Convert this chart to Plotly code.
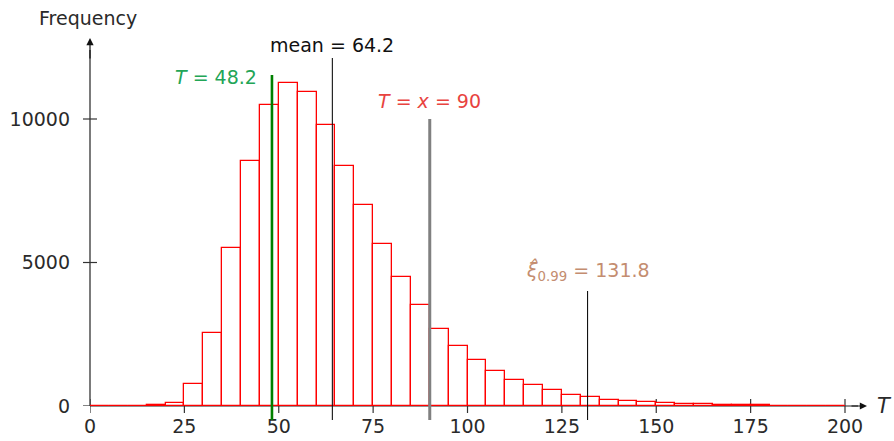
import plotly.graph_objects as go

# ---- data ----
bin_width = 5
bin_starts = list(range(0, 200, 5))
frequencies = [0, 0, 5, 30, 90, 750, 2540, 5500, 8540, 10500,
               11240, 10950, 9790, 8370, 7000, 5640, 4490, 3520, 2690, 2100,
               1600, 1210, 905, 720, 545, 395, 315, 225, 180, 135,
               100, 75, 55, 40, 30, 20, 15, 10, 8, 5]
x_ticks = [0, 25, 50, 75, 100, 125, 150, 175, 200]
y_ticks = [0, 5000, 10000]
observed_T = 48.2
mean_T = 64.2
x_value = 90
quantile_99 = 131.8

FONT = "DejaVu Sans"
FS = 19
TXT = "#2a2a2a"

# geometry (style); page body margin removed via post_script
W, H = 894, 441
ML = 90
plot_h = 406
MB = H - plot_h
plot_w = W - ML
px_per_x = 3.775
px_per_y = 0.0287
x_max = plot_w / px_per_x
y_max = plot_h / px_per_y


def py(ref_px):
    """pixel row -> paper fraction"""
    return (plot_h - ref_px) / plot_h


def ydata(ref_px):
    return (plot_h - ref_px) / px_per_y


def xdata(ref_px):
    return (ref_px - ML) / px_per_x


centers = [s + bin_width / 2 for s in bin_starts]

fig = go.Figure()
fig.add_trace(go.Bar(
    x=centers, y=frequencies, width=bin_width,
    marker=dict(color="white", line=dict(color="#ff0000", width=1.3)),
    showlegend=False, hoverinfo="skip", cliponaxis=False,
))
# histogram baseline
fig.add_trace(go.Scatter(
    x=[bin_starts[0], bin_starts[-1] + bin_width], y=[0, 0], mode="lines",
    line=dict(color="#ff0000", width=1.5), showlegend=False, hoverinfo="skip",
    cliponaxis=False,
))

shapes = []
# y axis line
shapes.append(dict(type="line", xref="paper", yref="paper", x0=0, x1=0,
                   y0=0, y1=py(50), line=dict(color="#222", width=1.2), layer="below"))
# x axis line (below bars)
shapes.append(dict(type="line", xref="x", yref="paper", x0=0, x1=xdata(858),
                   y0=0, y1=0, line=dict(color="#222", width=1.2), layer="below"))
# cross ticks x
for t in x_ticks:
    shapes.append(dict(type="line", xref="x", yref="paper", x0=t, x1=t,
                       y0=py(413), y1=py(399),
                       line=dict(color="#333", width=1.2), layer="below"))
# cross ticks y
for t in y_ticks:
    shapes.append(dict(type="line", xref="paper", yref="y", x0=-7 / plot_w, x1=7 / plot_w,
                       y0=t, y1=t, line=dict(color="#333", width=1.2), layer="below"))

# vertical marker lines
shapes.append(dict(type="line", xref="x", yref="paper", x0=observed_T, x1=observed_T,
                   y0=py(420), y1=py(75), line=dict(color="#008000", width=2.6)))
shapes.append(dict(type="line", xref="x", yref="paper", x0=mean_T, x1=mean_T,
                   y0=py(420), y1=py(58), line=dict(color="#111", width=1.1)))
shapes.append(dict(type="line", xref="x", yref="paper", x0=x_value, x1=x_value,
                   y0=py(420), y1=py(119), line=dict(color="#808080", width=3)))
shapes.append(dict(type="line", xref="x", yref="paper", x0=quantile_99, x1=quantile_99,
                   y0=py(420), y1=py(291), line=dict(color="#111", width=1.1)))

annotations = []
# axis arrows
annotations.append(dict(x=xdata(867), y=0, ax=xdata(850), ay=0, xref="x", yref="y", axref="x", ayref="y",
                        text="", showarrow=True, arrowhead=2, arrowsize=1.2, arrowwidth=1.2,
                        arrowcolor="#111", standoff=0, startstandoff=0))
annotations.append(dict(x=0, y=ydata(38), ax=0, ay=ydata(60), xref="x", yref="y", axref="x", ayref="y",
                        text="", showarrow=True, arrowhead=2, arrowsize=1.2, arrowwidth=1.2,
                        arrowcolor="#111", standoff=0, startstandoff=0))
# axis titles
annotations.append(dict(x=0, xshift=-2, y=ydata(18), xref="paper", yref="y", text="Frequency",
                        showarrow=False, xanchor="center", yanchor="middle",
                        font=dict(family=FONT, size=FS, color=TXT)))
annotations.append(dict(x=xdata(884), y=0, xref="x", yref="y", text="<i>T</i>",
                        showarrow=False, xanchor="center", yanchor="middle",
                        font=dict(family=FONT, size=FS + 2, color=TXT)))
# labels
annotations.append(dict(x=observed_T, xshift=-56, y=ydata(77), xref="x", yref="y",
                        text="<i>T</i> = " + str(observed_T), showarrow=False,
                        xanchor="center", yanchor="middle",
                        font=dict(family=FONT, size=FS, color="#22a556")))
annotations.append(dict(x=mean_T, y=ydata(45), xref="x", yref="y",
                        text="mean = " + str(mean_T), showarrow=False,
                        xanchor="center", yanchor="middle",
                        font=dict(family=FONT, size=FS, color="#111")))
annotations.append(dict(x=x_value, y=ydata(101), xref="x", yref="y",
                        text="<i>T</i> = <i>x</i> = " + str(x_value), showarrow=False,
                        xanchor="center", yanchor="middle",
                        font=dict(family=FONT, size=FS, color="#e8433f")))
annotations.append(dict(x=quantile_99, y=ydata(271), xref="x", yref="y",
                        text="<i>ξ\u0302</i><sub>0.99</sub> = " + str(quantile_99), showarrow=False,
                        xanchor="center", yanchor="middle",
                        font=dict(family=FONT, size=FS, color="#c48d70")))

fig.update_layout(
    width=W, height=H,
    margin=dict(l=ML, r=0, t=0, b=MB, pad=0),
    plot_bgcolor="white", paper_bgcolor="white",
    bargap=0,
    shapes=shapes, annotations=annotations,
    xaxis=dict(range=[0, x_max], tickvals=x_ticks, ticktext=[str(t) for t in x_ticks],
               showgrid=False, zeroline=False, showline=False, ticks="",
               ticklabelstandoff=7, fixedrange=True,
               tickfont=dict(family=FONT, size=FS, color=TXT)),
    yaxis=dict(range=[0, y_max], tickvals=y_ticks, ticktext=[str(t) for t in y_ticks],
               showgrid=False, zeroline=False, showline=False, ticks="",
               ticklabelstandoff=19, fixedrange=True,
               tickfont=dict(family=FONT, size=FS, color=TXT)),
)

fig.write_html(
    "out.html",
    config={"displayModeBar": False},
    post_script="document.body.style.margin='0';document.body.style.overflow='hidden';",
)
